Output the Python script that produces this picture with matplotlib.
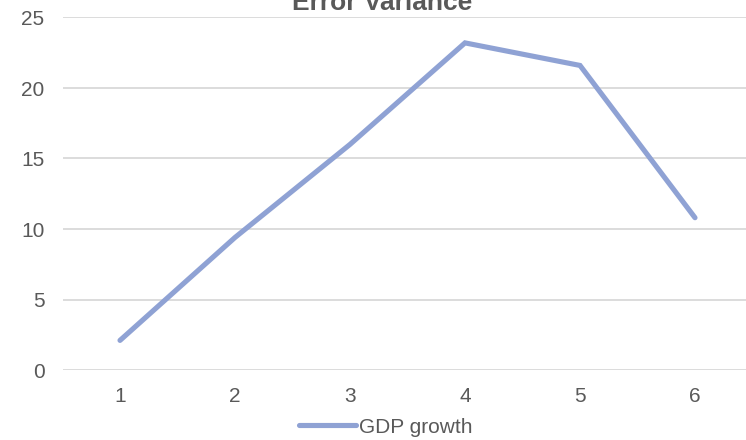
import matplotlib
matplotlib.use("Agg")
import matplotlib.pyplot as plt

categories = ["1", "2", "3", "4", "5", "6"]
gdp_growth = [2.1, 9.4, 16.0, 23.2, 21.6, 10.8]
y_ticks = [0, 5, 10, 15, 20, 25]
title = "Error Variance"
series_name = "GDP growth"

plt.rcParams['font.family'] = ['Liberation Sans', 'DejaVu Sans']

W, H = 746, 440
fig = plt.figure(figsize=(W/100, H/100), dpi=100)
ax = fig.add_axes([62.5/W, 1-370/H, 690/W, (370-17.5)/H])

x = list(range(1, len(categories)+1))
line, = ax.plot(x, gdp_growth, color='#8FA2D4', lw=3.7, solid_capstyle='round',
                solid_joinstyle='miter', label=series_name, zorder=3)

ax.set_xlim(0.5, 6.5)
ax.set_ylim(0, 25)
ax.set_yticks(y_ticks)
ax.set_xticks(x)
ax.set_xticklabels(categories)
ax.yaxis.grid(True, color='#D9D9D9', lw=1.3)
ax.set_axisbelow(True)
for s in ax.spines.values():
    s.set_visible(False)
ax.tick_params(axis='both', length=0, labelsize=15, labelcolor='#595959')
ax.tick_params(axis='y', pad=13)
ax.tick_params(axis='x', pad=12)

fig.text(382/W, 1-10/H, title, ha='center', va='baseline', fontsize=19,
         fontweight='bold', color='#595959')

fig.legend(handles=[line], loc='center', bbox_to_anchor=(386/W, 1-427/H),
           frameon=False, fontsize=15, handlelength=2.75, handletextpad=0.15,
           labelcolor='#595959', borderpad=0)

fig.savefig("out.png", dpi=100)
